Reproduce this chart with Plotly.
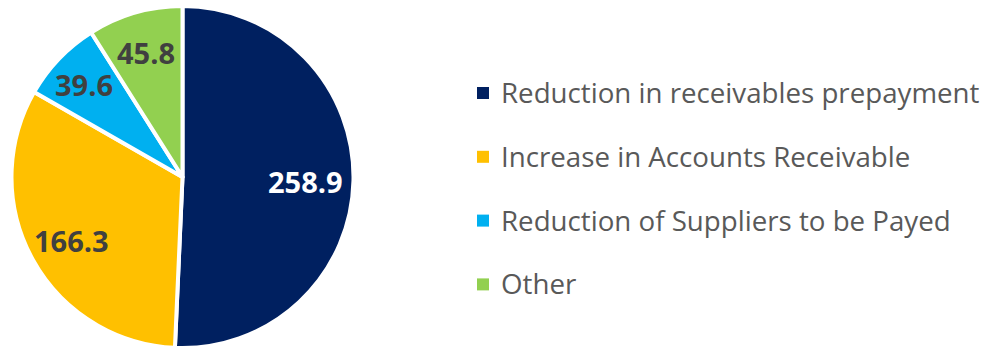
import math
import plotly.graph_objects as go

# Cash-flow components (values shown on each slice)
categories = [
    "Reduction in receivables prepayment",
    "Increase in Accounts Receivable",
    "Reduction of Suppliers to be Payed",
    "Other",
]
values = [258.9, 166.3, 39.6, 45.8]
value_labels = ["258.9", "166.3", "39.6", "45.8"]

colors = ["#002060", "#FFC000", "#00B0F0", "#92D050"]
label_colors = ["#FFFFFF", "#404040", "#404040", "#404040"]
# how far out along each slice's bisector its value label sits (fraction of radius)
label_radius = [0.72, 0.74, 0.80, 0.77]

W, H = 989, 348
FONT = "Open Sans"

# pie placement in pixels
cx, cy, r = 182.5, 177, 171

fig = go.Figure(
    go.Pie(
        labels=categories,
        values=values,
        textinfo="none",
        marker=dict(colors=colors, line=dict(color="#FFFFFF", width=4)),
        sort=False,
        direction="clockwise",
        rotation=0,
        showlegend=False,
        hoverinfo="label+value",
        domain=dict(
            x=[(cx - r) / W, (cx + r) / W],
            y=[max(0.0, 1 - (cy + r) / H), 1 - (cy - r) / H],
        ),
    )
)

annotations = []

# Value labels placed on each slice's bisector (clockwise from 12 o'clock)
total = sum(values)
cum = 0.0
for v, txt, col, rf in zip(values, value_labels, label_colors, label_radius):
    mid = (cum + v / 2) / total * 2 * math.pi
    cum += v
    px = cx + rf * r * math.sin(mid)
    py = cy + 2 - rf * r * math.cos(mid)
    annotations.append(
        dict(
            text=txt,
            xref="paper",
            yref="paper",
            x=px / W,
            y=1 - py / H,
            xanchor="center",
            yanchor="middle",
            showarrow=False,
            font=dict(family=FONT, size=29, color=col, weight="bold"),
        )
    )

# Legend drawn as square swatches with labels beside them
legend_x0 = 477
legend_text_x = 499
legend_y0 = 92
legend_step = 63.8
sq = 12
shapes = []
for i, (name, col) in enumerate(zip(categories, colors)):
    yc = legend_y0 + i * legend_step
    shapes.append(
        dict(
            type="rect",
            xref="paper",
            yref="paper",
            x0=legend_x0 / W,
            x1=(legend_x0 + sq) / W,
            y0=1 - (yc + 1 + sq / 2) / H,
            y1=1 - (yc + 1 - sq / 2) / H,
            fillcolor=col,
            line=dict(width=0),
        )
    )
    annotations.append(
        dict(
            text=name,
            xref="paper",
            yref="paper",
            x=legend_text_x / W,
            y=1 - yc / H,
            xanchor="left",
            yanchor="middle",
            showarrow=False,
            font=dict(family=FONT, size=27.7, color="#595959"),
        )
    )

fig.update_layout(
    width=W,
    height=H,
    margin=dict(l=0, r=0, t=0, b=0),
    paper_bgcolor="#FFFFFF",
    plot_bgcolor="#FFFFFF",
    shapes=shapes,
    annotations=annotations,
)

fig.write_html("out.html")
